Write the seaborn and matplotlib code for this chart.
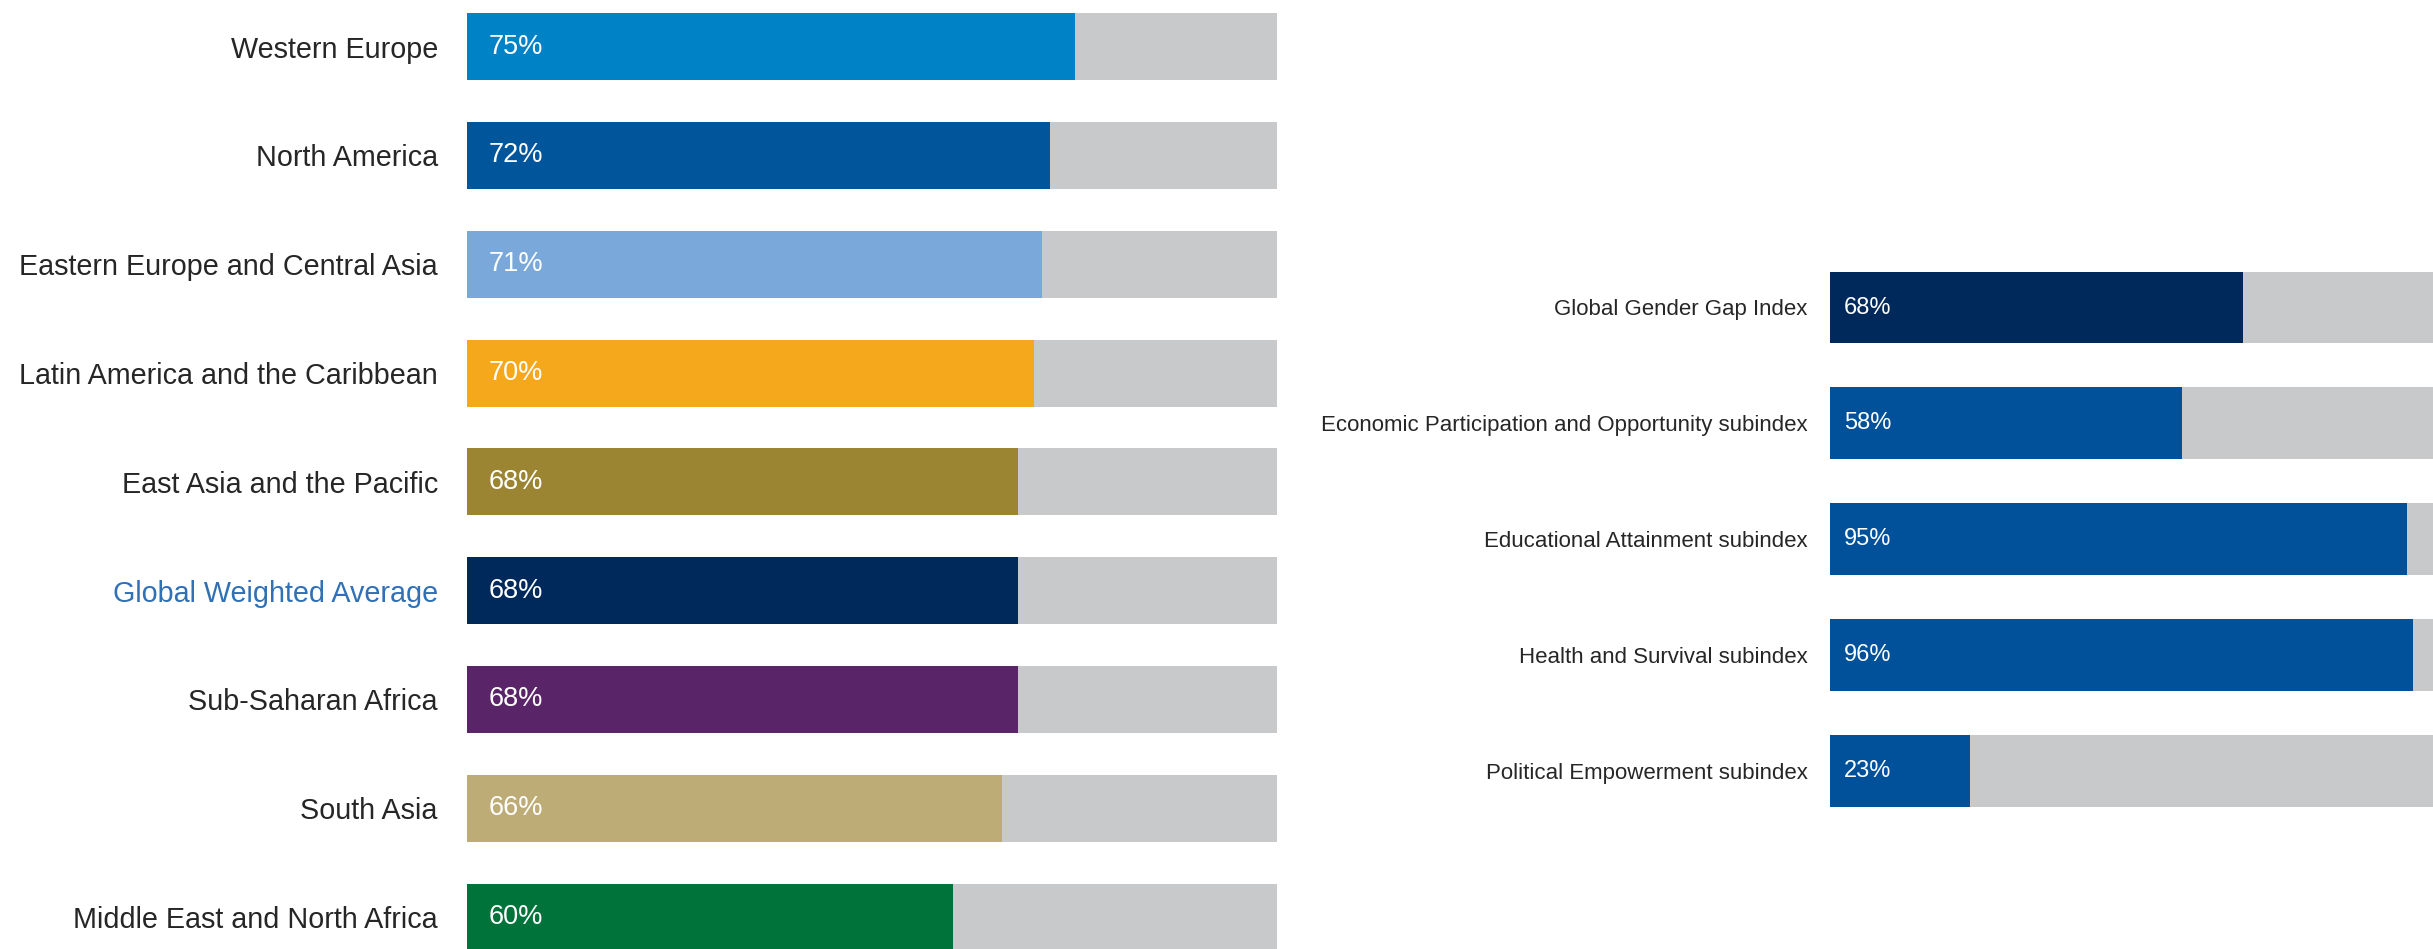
import matplotlib
matplotlib.use("Agg")
import matplotlib.pyplot as plt
from matplotlib import font_manager
import seaborn as sns
import pandas as pd

# Regional gender gap scores (share of the gap closed, %)
regions = [
    "Western Europe",
    "North America",
    "Eastern Europe and Central Asia",
    "Latin America and the Caribbean",
    "East Asia and the Pacific",
    "Global Weighted Average",
    "Sub-Saharan Africa",
    "South Asia",
    "Middle East and North Africa",
]
region_scores = [75, 72, 71, 70, 68, 68, 68, 66, 60]

# Global index and its four subindexes (%)
subindexes = [
    "Global Gender Gap Index",
    "Economic Participation and Opportunity subindex",
    "Educational Attainment subindex",
    "Health and Survival subindex",
    "Political Empowerment subindex",
]
subindex_scores = [68, 58, 95, 96, 23]

FULL = 100

region_colors = ["#0083C6", "#00559B", "#7BA8DB", "#F6A81D", "#9B8532",
                 "#00295B", "#5A2568", "#BEAC76", "#00733B"]
subindex_colors = ["#00295B", "#00509A", "#00509A", "#00509A", "#00509A"]
TRACK = "#C8C9CB"
LABEL = "#262626"
HIGHLIGHT = "#2F70B6"

sns.set_theme(style="white")
available = {f.name for f in font_manager.fontManager.ttflist}
main_font = ["Liberation Sans", "DejaVu Sans"]
if "Liberation Sans Narrow" in available:
    narrow_font, narrow_size, narrow_pct = ["Liberation Sans Narrow", "DejaVu Sans"], 19.1, 20.5
elif "DejaVu Sans Condensed" in available:
    narrow_font, narrow_size, narrow_pct = ["DejaVu Sans Condensed", "DejaVu Sans"], 16, 17
else:
    narrow_font, narrow_size, narrow_pct = main_font, 16, 17
plt.rcParams["font.family"] = main_font

W, H = 2433, 949
fig = plt.figure(figsize=(W / 100, H / 100), dpi=100)
fig.patch.set_facecolor("white")


def px_axes(x0, x1, y_top, y_bottom):
    """Create axes from pixel bounds measured from the top-left corner."""
    return fig.add_axes([x0 / W, 1 - y_bottom / H, (x1 - x0) / W, (y_bottom - y_top) / H])


def draw_panel(ax, names, scores, colors, bar_w, label_font, label_size,
               pct_font, pct_size, pct_offset, label_pad, label_colors):
    df = pd.DataFrame({"name": names, "score": scores, "full": [FULL] * len(names)})
    sns.barplot(data=df, y="name", x="full", orient="h", color=TRACK,
                width=bar_w, saturation=1, ax=ax, errorbar=None)
    sns.barplot(data=df, y="name", x="score", hue="name", orient="h",
                palette=colors, width=bar_w, saturation=1, ax=ax,
                errorbar=None, legend=False)
    for p in ax.patches:
        p.set_linewidth(0)
    ax.set_xlim(0, FULL)
    ax.set_ylim(len(names) - 0.5, -0.5)
    ax.set_xlabel("")
    ax.set_ylabel("")
    ax.set_xticks([])
    ax.tick_params(axis="y", length=0, pad=label_pad)
    for lab, c in zip(ax.get_yticklabels(), label_colors):
        lab.set_color(c)
        lab.set_fontfamily(label_font)
        lab.set_fontsize(label_size)
    for i, v in enumerate(scores):
        ax.annotate(f"{v}%", xy=(0, i), xytext=(pct_offset, 0),
                    textcoords="offset pixels", ha="left", va="center",
                    color="white", fontsize=pct_size, family=pct_font)
    sns.despine(ax=ax, left=True, bottom=True)
    ax.set_facecolor("none")


# Left panel: regions
spacing_l = 108.8
top_l = 46.7 - spacing_l / 2
ax_l = px_axes(467, 1277, top_l, top_l + spacing_l * len(regions))
draw_panel(ax_l, regions, region_scores, region_colors, 0.616,
           main_font, 20.7, main_font, 19.5, 22, 21,
           [HIGHLIGHT if r == "Global Weighted Average" else LABEL for r in regions])

# Right panel: index and subindexes
spacing_r = 115.8
top_r = 307.5 - spacing_r / 2
ax_r = px_axes(1830, 2437, top_r, top_r + spacing_r * len(subindexes))
draw_panel(ax_r, subindexes, subindex_scores, subindex_colors, 0.62,
           narrow_font, narrow_size, narrow_font, narrow_pct, 14, 16,
           [LABEL] * len(subindexes))

fig.savefig("out.png", dpi=100, facecolor="white")
